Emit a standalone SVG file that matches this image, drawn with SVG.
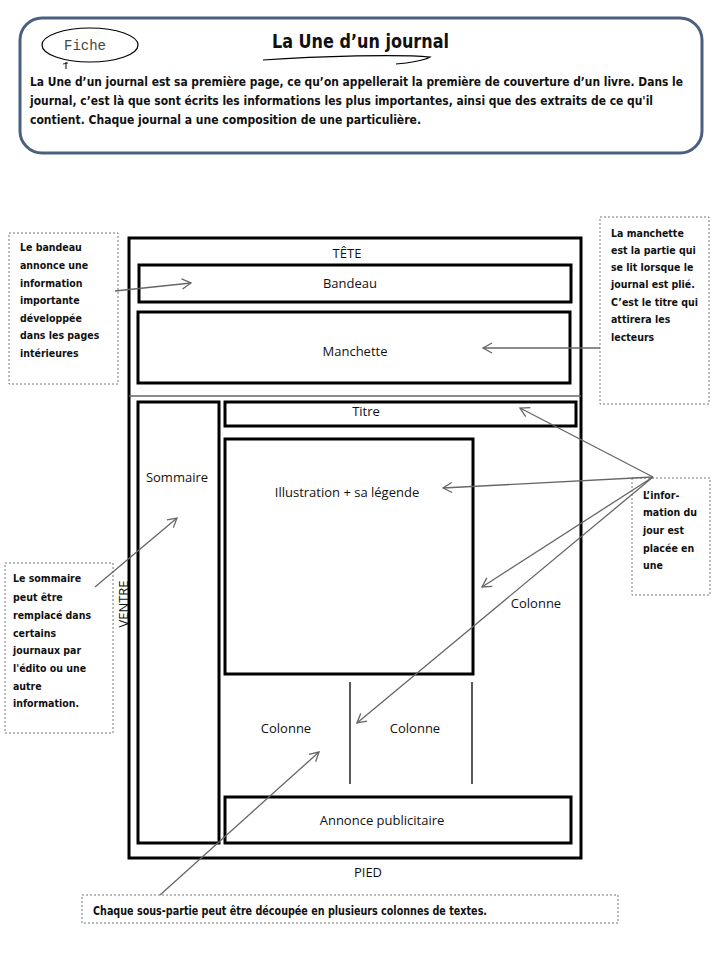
<svg xmlns="http://www.w3.org/2000/svg" width="720" height="960" viewBox="0 0 720 960">
<style>
.box{fill:none;stroke:#000;stroke-width:3}
.lbl{font-family:"Open Sans","Liberation Sans",sans-serif;font-size:13px;fill:#111;text-anchor:middle}
.note{font-family:"DejaVu Sans Condensed","DejaVu Sans",sans-serif;font-weight:bold;font-size:10.5px;fill:#111}
.dash{fill:#fff;stroke:#777;stroke-width:1;stroke-dasharray:2,2}
.body{font-family:"DejaVu Sans Condensed","DejaVu Sans",sans-serif;font-weight:bold;fill:#111}
.arr{fill:none;stroke:#666;stroke-width:1.3;marker-end:url(#ah)}
</style>
<defs>
<marker id="ah" markerUnits="userSpaceOnUse" markerWidth="14" markerHeight="14" refX="10" refY="6" orient="auto">
<path d="M1,1 L10,6 L1,11" fill="none" stroke="#666" stroke-width="1.3"/>
</marker>
</defs>
<rect width="720" height="960" fill="#fff"/>

<g id="header">
<rect x="20" y="18" width="682" height="135" rx="22" fill="#fff" stroke="#4b6080" stroke-width="3"/>
<ellipse cx="90" cy="45" rx="48" ry="17" fill="none" stroke="#000" stroke-width="1.2"/>
<text x="85" y="50" font-family="Liberation Mono,monospace" font-size="14" fill="#444" text-anchor="middle">Fiche</text>
<line x1="66" y1="62" x2="66" y2="69" stroke="#000" stroke-width="1"/>
<line x1="63" y1="64" x2="68" y2="63" stroke="#000" stroke-width="0.8"/>
<text x="272" y="48" class="body" style="font-size:20px" textLength="177" lengthAdjust="spacingAndGlyphs">La Une d’un journal</text>
<path d="M263,60 C320,56 400,54 430,57 C425,60 410,63 396,64" fill="none" stroke="#000" stroke-width="1.2"/>
<text x="30" y="86" class="body" style="font-size:12.5px" textLength="653" lengthAdjust="spacingAndGlyphs">La Une d’un journal est sa première page, ce qu’on appellerait la première de couverture d’un livre. Dans le</text>
<text x="30" y="105" class="body" style="font-size:12.5px" textLength="623" lengthAdjust="spacingAndGlyphs">journal, c’est là que sont écrits les informations les plus importantes, ainsi que des extraits de ce qu'il</text>
<text x="30" y="124" class="body" style="font-size:12.5px" textLength="391" lengthAdjust="spacingAndGlyphs">contient. Chaque journal a une composition  de  une particulière.</text>
</g>

<g id="page">
<rect x="129" y="238" width="452" height="620" class="box"/>
<text x="347" y="258" class="lbl">TÊTE</text>
<line x1="129" y1="396" x2="581" y2="396" stroke="#666" stroke-width="1.5"/>
<text x="368" y="877" class="lbl">PIED</text>
<text x="0" y="0" class="lbl" transform="translate(128,604) rotate(-90)">VENTRE</text>
</g>
<g id="bandeau"><rect x="139" y="265" width="432" height="37" class="box"/><text x="350" y="288" class="lbl">Bandeau</text></g>
<g id="manchette"><rect x="138" y="312" width="432" height="71" class="box"/><text x="355" y="356" class="lbl">Manchette</text></g>
<g id="sommaire"><rect x="138" y="402" width="81" height="441" class="box"/><text x="177" y="482" class="lbl">Sommaire</text></g>
<g id="titre"><rect x="225" y="402" width="351" height="24" class="box"/><text x="366" y="416" class="lbl">Titre</text></g>
<g id="illustration"><rect x="225" y="439" width="248" height="235" class="box"/><text x="347" y="497" class="lbl">Illustration + sa légende</text></g>
<g id="colonnes">
<text x="536" y="608" class="lbl">Colonne</text>
<line x1="350" y1="682" x2="350" y2="784" stroke="#000" stroke-width="1.3"/>
<line x1="472" y1="682" x2="472" y2="784" stroke="#000" stroke-width="1.3"/>
<text x="286" y="733" class="lbl">Colonne</text>
<text x="415" y="733" class="lbl">Colonne</text>
</g>
<g id="annonce"><rect x="225" y="797" width="346" height="46" class="box"/><text x="382" y="825" class="lbl">Annonce publicitaire</text></g>

<g id="note-bandeau">
<rect x="9" y="233" width="109" height="151" class="dash"/>
<text class="note"><tspan x="20" y="251">Le bandeau</tspan><tspan x="20" y="269">annonce une</tspan><tspan x="20" y="287">information</tspan><tspan x="20" y="304">importante</tspan><tspan x="20" y="322">développée</tspan><tspan x="20" y="339">dans les pages</tspan><tspan x="20" y="357">intérieures</tspan></text>
</g>
<g id="note-manchette">
<rect x="600" y="217" width="109" height="187" class="dash"/>
<text class="note"><tspan x="611" y="237">La manchette</tspan><tspan x="611" y="254">est la partie qui</tspan><tspan x="611" y="271">se lit lorsque le</tspan><tspan x="611" y="288">journal est plié.</tspan><tspan x="611" y="306">C’est le titre qui</tspan><tspan x="611" y="323">attirera les</tspan><tspan x="611" y="341">lecteurs</tspan></text>
</g>
<g id="note-info">
<rect x="632" y="478" width="78" height="117" class="dash"/>
<text class="note"><tspan x="643" y="499">L’infor-</tspan><tspan x="643" y="516">mation du</tspan><tspan x="643" y="534">jour est</tspan><tspan x="643" y="552">placée en</tspan><tspan x="643" y="569">une</tspan></text>
</g>
<g id="note-sommaire">
<rect x="5" y="563" width="108" height="170" class="dash"/>
<text class="note"><tspan x="13" y="582">Le sommaire</tspan><tspan x="13" y="601">peut être</tspan><tspan x="13" y="619">remplacé dans</tspan><tspan x="13" y="637">certains</tspan><tspan x="13" y="654">journaux par</tspan><tspan x="13" y="672">l'édito ou une</tspan><tspan x="13" y="690">autre</tspan><tspan x="13" y="707">information.</tspan></text>
</g>
<g id="note-colonnes">
<rect x="82" y="895" width="536" height="28" class="dash"/>
<text x="93" y="915" class="note" style="font-size:12px" textLength="394" lengthAdjust="spacingAndGlyphs">Chaque sous-partie peut être découpée en plusieurs colonnes de textes.</text>
</g>

<g id="connectors">
<line x1="115" y1="291" x2="191" y2="283" class="arr"/>
<line x1="600" y1="348" x2="483" y2="348" class="arr"/>
<line x1="653" y1="477" x2="520" y2="408" class="arr"/>
<line x1="653" y1="477" x2="443" y2="488" class="arr"/>
<line x1="653" y1="477" x2="482" y2="587" class="arr"/>
<line x1="653" y1="477" x2="357" y2="723" class="arr"/>
<line x1="95" y1="587" x2="177" y2="518" class="arr"/>
<line x1="160" y1="895" x2="319" y2="752" class="arr"/>
</g>
</svg>
